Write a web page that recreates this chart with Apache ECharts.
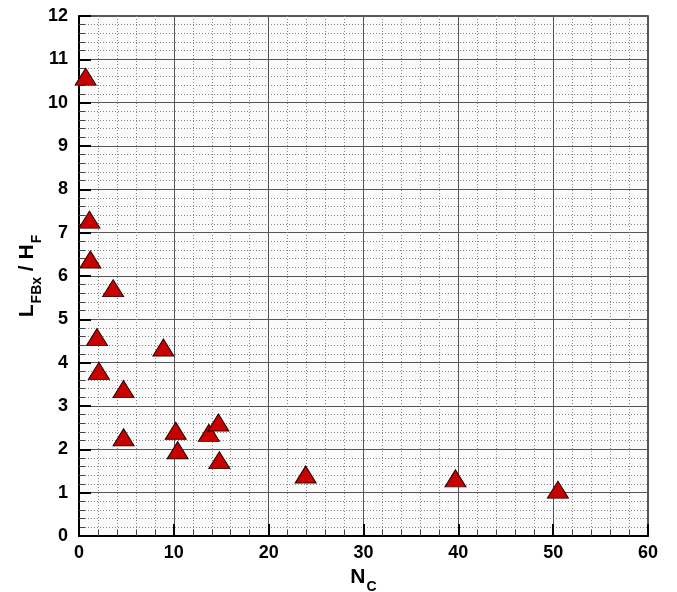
<!DOCTYPE html>
<html>
<head>
<meta charset="utf-8">
<script src="https://cdn.jsdelivr.net/npm/echarts@6/dist/echarts.min.js"></script>
<style>
  html, body { margin: 0; padding: 0; background: #ffffff; }
  #chart { width: 677px; height: 592px; }
</style>
</head>
<body>
<div id="chart"></div>
<script>
// Measured points: N_C (x) against L_FBx / H_F (y)
const ncValues = [0.7, 1.1, 1.2, 3.6, 1.9, 8.9, 2.1, 4.7, 4.7, 10.2, 10.4, 13.7, 14.7, 14.8, 23.9, 39.7, 50.5];
const ratioValues = [10.6, 7.3, 6.38, 5.72, 4.59, 4.35, 3.81, 3.39, 2.28, 2.43, 1.98, 2.38, 2.62, 1.75, 1.42, 1.33, 1.07];

const xTicks = [0, 10, 20, 30, 40, 50, 60];
const yTicks = [0, 1, 2, 3, 4, 5, 6, 7, 8, 9, 10, 11, 12];

const points = ncValues.map((x, i) => [x, ratioValues[i]]);

const labelFont = { fontFamily: 'Liberation Sans, Arial, sans-serif', fontWeight: 'bold', color: '#000' };

const chart = echarts.init(document.getElementById('chart'), null, { renderer: 'canvas' });

function axisCommon(ticks, minorSplits) {
  return {
    min: ticks[0],
    max: ticks[ticks.length - 1],
    interval: ticks[1] - ticks[0],
    axisLine: { show: true, onZero: false, lineStyle: { color: '#000', width: 2 } },
    axisTick: { show: true, inside: true, length: 12, lineStyle: { color: '#000', width: 2 } },
    minorTick: { show: true, splitNumber: minorSplits, length: 6, lineStyle: { color: '#444', width: 1 } },
    splitLine: { show: true, lineStyle: { color: '#555', width: 1, type: 'solid' } },
    minorSplitLine: { show: true, lineStyle: { color: '#888', width: 1, type: [1, 2] } },
    axisLabel: Object.assign({ fontSize: 18 }, labelFont)
  };
}

// Main letter sits at the top of the line; the subscript is pushed down by padding
const subRich = {
  b: Object.assign({ fontSize: 21, lineHeight: 22, verticalAlign: 'top' }, labelFont),
  s: Object.assign({ fontSize: 14, lineHeight: 14, verticalAlign: 'top', padding: [13, 0, 0, 1] }, labelFont)
};

const option = {
  backgroundColor: '#ffffff',
  animation: false,
  grid: {
    left: 79, right: 29, top: 16, bottom: 56,
    outerBoundsMode: 'none',
    containLabel: false,
    show: true, backgroundColor: '#fafafa', borderColor: '#222', borderWidth: 1.5
  },
  xAxis: Object.assign(axisCommon(xTicks, 5), {
    type: 'value',
    name: '{b|N}{s|C}',
    nameLocation: 'middle',
    nameGap: 17,
    nameTextStyle: { rich: subRich }
  }),
  yAxis: Object.assign(axisCommon(yTicks, 5), {
    type: 'value',
    name: '{b|L}{s|FBx}{b| / H}{s|F}',
    nameLocation: 'middle',
    nameGap: 40,
    nameMoveOverlap: false,
    nameRotate: 90,
    nameTextStyle: { rich: subRich },
    axisLabel: Object.assign({ fontSize: 18, margin: 11 }, labelFont)
  }),
  series: [{
    type: 'scatter',
    data: points,
    symbol: 'triangle',
    symbolSize: [21, 17],
    itemStyle: { color: '#c80000', borderColor: '#2a0000', borderWidth: 1, opacity: 1 }
  }]
};

chart.setOption(option);
</script>
</body>
</html>
